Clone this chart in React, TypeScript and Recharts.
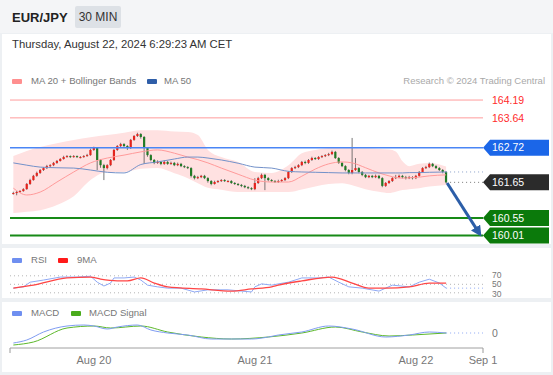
import React from 'react';
import { ComposedChart, Bar, Line, Area, XAxis, YAxis, ReferenceLine } from 'recharts';

// ---------- DATA ----------
const firstOpen = 161.30;
const closes = [
  161.32, 161.35, 161.38, 161.44, 161.60, 161.72, 161.85, 161.94, 162.03, 162.09,
  162.15, 162.18, 162.25, 162.31, 162.37, 162.43, 162.46, 162.43, 162.46, 162.43,
  162.43, 162.46, 162.49, 162.65, 162.71, 162.34, 162.18, 162.09, 162.18, 162.34,
  162.65, 162.77, 162.83, 162.77, 162.71, 162.96, 163.08, 163.14, 163.05, 162.71,
  162.49, 162.34, 162.25, 162.28, 162.22, 162.28, 162.22, 162.25, 162.18, 162.22,
  162.15, 162.12, 162.09, 161.85, 161.78, 161.81, 161.85, 161.78, 161.69, 161.60,
  161.66, 161.69, 161.72, 161.69, 161.69, 161.63, 161.60, 161.57, 161.54, 161.50,
  161.47, 161.44, 161.63, 161.78, 161.88, 161.78, 161.72, 161.69, 161.66, 161.69,
  161.72, 161.78, 161.97, 162.09, 162.12, 162.18, 162.28, 162.25, 162.34, 162.40,
  162.37, 162.43, 162.46, 162.49, 162.52, 162.59, 162.40, 162.25, 162.15, 162.03,
  161.94, 162.03, 162.09, 161.97, 161.88, 161.81, 161.85, 161.81, 161.85, 161.78,
  161.54, 161.63, 161.69, 161.78, 161.81, 161.85, 161.81, 161.78, 161.81, 161.78,
  161.85, 161.97, 162.09, 162.12, 162.22, 162.15, 162.09, 162.03, 161.97, 161.65,
];
const highs = [
  161.36, 161.38, 161.41, 161.47, 161.63, 161.76, 161.88, 161.98, 162.06, 162.12,
  162.19, 162.21, 162.28, 162.34, 162.40, 162.47, 162.49, 162.48, 162.49, 162.48,
  162.46, 162.49, 162.53, 162.69, 162.75, 162.74, 162.37, 162.22, 162.21, 162.37,
  162.68, 162.80, 162.87, 162.86, 162.80, 162.99, 163.11, 163.18, 163.17, 163.08,
  162.74, 162.52, 162.37, 162.33, 162.31, 162.33, 162.31, 162.29, 162.28, 162.26,
  162.25, 162.18, 162.15, 162.12, 161.88, 161.85, 161.88, 161.88, 161.81, 161.72,
  161.70, 161.72, 161.75, 161.75, 161.72, 161.72, 161.66, 161.63, 161.60, 161.57,
  161.53, 161.50, 161.78, 161.82, 161.92, 161.91, 161.81, 161.75, 161.72, 161.73,
  161.75, 161.81, 162.00, 162.12, 162.16, 162.21, 162.31, 162.32, 162.37, 162.44,
  162.43, 162.46, 162.49, 162.52, 162.56, 162.63, 162.62, 162.43, 162.28, 162.18,
  162.06, 163.02, 162.40, 162.12, 162.00, 161.91, 161.88, 161.88, 161.89, 161.88,
  161.81, 161.66, 161.72, 161.81, 161.88, 161.89, 161.88, 161.85, 161.85, 161.84,
  161.88, 162.00, 162.12, 162.16, 162.26, 162.25, 162.18, 162.12, 162.06, 162.00,
];
const lows = [
  161.27, 161.25, 161.33, 161.36, 161.42, 161.57, 161.70, 161.82, 161.91, 162.00,
  162.06, 162.12, 162.15, 162.22, 162.29, 162.35, 162.41, 162.40, 162.41, 162.40,
  162.39, 162.41, 162.44, 162.47, 162.62, 162.03, 162.10, 161.72, 162.05, 162.15,
  162.31, 162.62, 162.74, 162.74, 162.65, 162.68, 162.93, 163.05, 163.00, 162.22,
  162.44, 162.30, 162.21, 162.22, 162.18, 162.19, 162.19, 162.19, 162.15, 162.15,
  162.12, 162.09, 162.06, 161.80, 161.74, 161.75, 161.78, 161.75, 161.64, 161.56,
  161.58, 161.63, 161.66, 161.66, 161.65, 161.60, 161.57, 161.54, 161.50, 161.47,
  161.44, 161.41, 161.41, 161.60, 161.75, 161.41, 161.68, 161.66, 161.63, 161.63,
  161.66, 161.69, 161.75, 161.94, 162.06, 162.09, 162.15, 162.21, 162.22, 162.31,
  162.34, 162.34, 162.40, 162.43, 162.46, 162.49, 162.37, 162.22, 162.12, 161.99,
  161.90, 161.90, 162.00, 161.93, 161.84, 161.78, 161.78, 161.78, 161.78, 161.75,
  161.50, 161.51, 161.60, 161.66, 161.75, 161.78, 161.77, 161.74, 161.75, 161.74,
  161.75, 161.82, 161.94, 162.06, 162.09, 162.12, 162.06, 162.00, 161.93, 161.62,
];

// Moving average / Bollinger samples (candle index)
const bandIdx = [1, 5, 9, 14, 19, 24, 29, 34, 39, 44, 49, 53, 56, 59, 63, 68, 73, 78, 83, 87, 91, 95, 99, 102, 106, 110, 113, 115, 117, 119, 122, 125, 130];
const upperBand = [162.46, 162.62, 162.74, 162.86, 162.96, 163.04, 163.11, 163.18, 163.26, 163.26, 163.22, 163.20, 163.11, 162.65, 162.43, 162.28, 161.97, 161.94, 162.18, 162.55, 162.65, 162.71, 162.73, 162.71, 162.70, 162.68, 162.66, 162.60, 162.30, 162.15, 162.22, 162.25, 162.14];
const lowerBand = [160.70, 160.74, 160.79, 160.95, 161.22, 161.72, 161.97, 161.97, 162.07, 162.09, 161.93, 161.78, 161.62, 161.48, 161.42, 161.35, 161.35, 161.35, 161.35, 161.43, 161.52, 161.60, 161.62, 161.56, 161.44, 161.36, 161.32, 161.36, 161.41, 161.44, 161.47, 161.52, 161.57];
const ma20 = [161.47, 161.26, 161.35, 161.66, 161.97, 162.25, 162.40, 162.49, 162.59, 162.65, 162.55, 162.43, 162.35, 162.25, 162.09, 161.90, 161.72, 161.66, 161.66, 161.84, 162.06, 162.22, 162.28, 162.25, 162.10, 161.94, 161.85, 161.80, 161.78, 161.79, 161.81, 161.85, 161.88];
const ma50 = [162.25, 162.18, 162.12, 162.10, 162.09, 162.03, 161.96, 161.94, 162.20, 162.28, 162.37, 162.43, 162.43, 162.40, 162.34, 162.24, 162.12, 162.09, 161.99, 161.97, 161.96, 161.95, 161.94, 161.94, 161.94, 161.94, 161.94, 161.94, 161.94, 161.95, 161.95, 161.96, 161.97];

// RSI
const rsiIdx = [1, 4, 6, 10, 15, 20, 24, 26, 28, 30, 31, 34, 37, 39, 41, 44, 47, 51, 55, 59, 65, 69, 72, 73, 75, 78, 80, 83, 87, 92, 95, 98, 101, 105, 110, 114, 119, 122, 125, 128, 130];
const rsiVals = [41, 44, 55, 60, 67, 67, 69, 55, 46, 53, 65, 65, 67, 60, 48, 44, 41, 41, 32, 37, 37, 34, 32, 44, 51, 48, 51, 55, 65, 65, 67, 55, 44, 41, 34, 48, 44, 55, 62, 53, 41];
const rsiMaIdx = [1, 7, 17, 24, 27, 32, 35, 39, 43, 47, 57, 66, 72, 78, 80, 87, 96, 102, 107, 112, 119, 125, 130];
const rsiMaVals = [41, 48, 65, 67, 62, 58, 58, 65, 53, 44, 39, 34, 39, 44, 48, 58, 67, 53, 41, 41, 44, 53, 53];
const rsiLevels = [70, 50, 30];

// MACD
const macdIdx = [1, 5, 10, 17, 22, 25, 29, 32, 38, 42, 47, 53, 60, 66, 72, 77, 80, 87, 95, 102, 112, 119, 125, 130];
const macdVals = [-0.10, -0.07, 0.01, 0.07, 0.08, 0.07, 0.04, 0.06, 0.08, 0.03, 0.00, -0.02, -0.06, -0.06, -0.06, -0.04, -0.02, 0.01, 0.07, 0.04, -0.04, -0.02, 0.01, 0.00];
const signalIdx = [1, 7, 17, 25, 30, 39, 47, 57, 66, 77, 87, 97, 105, 113, 120, 130];
const signalVals = [-0.12, -0.09, 0.05, 0.07, 0.05, 0.07, 0.01, -0.04, -0.06, -0.04, 0.00, 0.06, 0.01, -0.03, -0.02, 0.00];

// Levels
const resistanceLevels = [164.19, 163.64];
const pivotLevel = 162.72;
const lastPrice = 161.65;
const supportLevels = [160.55, 160.01];
const arrowTarget = 160.06;

// X axis
const xDomain: [number, number] = [0, 141];
const xTickIdx = [0, 25, 73, 121, 141];
const xTickLabels = ['', 'Aug 20', 'Aug 21', 'Aug 22', 'Sep 1'];

// ---------- BUILT TABLES ----------
const candles = closes.map((c, k) => ({
  i: k + 1,
  open: k === 0 ? firstOpen : closes[k - 1],
  close: c,
  high: highs[k],
  low: lows[k],
}));
const bandData = bandIdx.map((i, k) => ({ i, band: [lowerBand[k], upperBand[k]], ma20: ma20[k], ma50: ma50[k] }));
const lastIdx = candles.length;
const ma50Ext = [{ i: lastIdx, v: ma50[ma50.length - 1] }, { i: xDomain[1], v: ma50[ma50.length - 1] }];
const arrowData = [{ i: lastIdx + 0.3, v: lastPrice - 0.02 }, { i: xDomain[1] - 1, v: arrowTarget }];
const rsiData = rsiIdx.map((i, k) => ({ i, v: rsiVals[k] }));
const rsiMaData = rsiMaIdx.map((i, k) => ({ i, v: rsiMaVals[k] }));
const rsiExt = [{ i: lastIdx, v: rsiVals[rsiVals.length - 1] }, { i: xDomain[1], v: rsiVals[rsiVals.length - 1] }];
const macdData = macdIdx.map((i, k) => ({ i, v: macdVals[k] }));
const signalData = signalIdx.map((i, k) => ({ i, v: signalVals[k] }));

// ---------- RENDER HELPERS ----------
const FONT = 'Arial, "Liberation Sans", Helvetica, sans-serif';

const Candle = (props: any) => {
  const { x, y, width, height, payload } = props;
  if (!payload) return null;
  const { open, close, high, low } = payload;
  const top = Math.min(y, y + height);
  const h = Math.abs(height);
  const range = high - low || 1;
  const toY = (v: number) => top + ((high - v) / range) * h;
  const cx = x + width / 2;
  const up = close >= open;
  const bTop = toY(Math.max(open, close));
  const bBot = toY(Math.min(open, close));
  return (
    <g>
      <line x1={cx} x2={cx} y1={top} y2={top + h} stroke="#555" strokeWidth={0.8} />
      <rect x={cx - 1.1} y={bTop} width={2.2} height={Math.max(1, bBot - bTop)} fill={up ? '#e3241d' : '#207a25'} />
    </g>
  );
};

const tag = (bg: string, fg: string, text: string, size = 10.5, dyPx = 0) => (props: any) => {
  const vb = props.viewBox || {};
  const x = (vb.x ?? 0) + (vb.width ?? 0);
  const y = vb.y ?? 0;
  return (
    <g>
      {bg !== 'none' && (
        <polygon points={`${x},${y} ${x + 7},${y - 8} ${x + 66},${y - 8} ${x + 66},${y + 8} ${x + 7},${y + 8}`} fill={bg} />
      )}
      <text x={x + 9} y={y + dyPx} dy="0.36em" fontSize={size} fill={fg} fontFamily={FONT}>
        {text}
      </text>
    </g>
  );
};

const XTick = (props: any) => {
  const { x, y, payload } = props;
  const k = xTickIdx.indexOf(payload.value);
  const label = k >= 0 ? xTickLabels[k] : '';
  const isEnd = payload.value === xDomain[0] || payload.value === xDomain[1];
  return (
    <g>
      {isEnd && <line x1={x} x2={x} y1={y - 5} y2={y} stroke="#9a9a9a" />}
      <text x={x} y={y + 11} textAnchor="middle" fontSize={11} fill="#777" fontFamily={FONT}>
        {label}
      </text>
    </g>
  );
};

const Swatch = ({ left, top, color }: { left: number; top: number; color: string }) => (
  <div style={{ position: 'absolute', left, top, width: 10, height: 5, borderRadius: 1, background: color }} />
);
const Txt = ({ left, top, children, size = 9.6, color = '#777', weight = 400 }: any) => (
  <div style={{ position: 'absolute', left, top, fontSize: size, lineHeight: `${Math.round(size + 4)}px`, color, fontWeight: weight, whiteSpace: 'nowrap' }}>{children}</div>
);

export default function App() {
  return (
    <div style={{ position: 'absolute', left: 0, top: 0, width: 553, height: 375, background: '#edf0f3', fontFamily: FONT, overflow: 'hidden' }}>
      <svg width={0} height={0} style={{ position: 'absolute' }}>
        <defs>
          <marker id="arrowHead" viewBox="0 0 10 10" refX="7" refY="5" markerWidth="3.6" markerHeight="3.6" orient="auto" markerUnits="strokeWidth">
            <path d="M0,0 L10,5 L0,10 z" fill="#2c5ea8" />
          </marker>
        </defs>
      </svg>

      {/* header */}
      <div style={{ position: 'absolute', left: 0, top: 0, width: 553, height: 33, background: '#f4f5f7' }} />
      <Txt left={12} top={9} size={13} color="#222" weight={700}>EUR/JPY</Txt>
      <div style={{ position: 'absolute', left: 75, top: 6, width: 46, height: 22, background: '#dde1e6', borderRadius: 2, fontSize: 12, lineHeight: '22px', textAlign: 'center', color: '#333' }}>30 MIN</div>

      {/* panels */}
      <div style={{ position: 'absolute', left: 2, top: 34, width: 549, height: 210, background: '#fff' }} />
      <div style={{ position: 'absolute', left: 2, top: 248, width: 549, height: 50, background: '#fff' }} />
      <div style={{ position: 'absolute', left: 2, top: 302, width: 549, height: 70, background: '#fff' }} />

      <Txt left={12} top={37} size={11.3} color="#333">Thursday, August 22, 2024 6:29:23 AM CET</Txt>

      <Swatch left={12} top={79} color="#ff8f8f" />
      <Txt left={31} top={74}>MA 20 + Bollinger Bands</Txt>
      <Swatch left={147} top={79} color="#2f5ea8" />
      <Txt left={164} top={74}>MA 50</Txt>
      <div style={{ position: 'absolute', right: 8, top: 74, fontSize: 9.5, lineHeight: '14px', color: '#a9a9a9', whiteSpace: 'nowrap' }}>Research © 2024 Trading Central</div>

      <Swatch left={12} top={258} color="#6f8ff0" />
      <Txt left={31} top={253}>RSI</Txt>
      <Swatch left={58} top={258} color="#ff1a1a" />
      <Txt left={77} top={253}>9MA</Txt>

      <Swatch left={12} top={311} color="#6f8ff0" />
      <Txt left={31} top={306}>MACD</Txt>
      <Swatch left={71} top={311} color="#4aab1c" />
      <Txt left={89} top={306}>MACD Signal</Txt>

      {/* main price chart */}
      <div style={{ position: 'absolute', left: 0, top: 0 }}>
        <ComposedChart width={553} height={245} data={candles} margin={{ top: 90, right: 70, bottom: 4.34, left: 10 }}>
          <XAxis dataKey="i" type="number" domain={xDomain} hide allowDataOverflow />
          <YAxis type="number" domain={[159.85, 164.5]} hide allowDataOverflow />
          <Area data={bandData} dataKey="band" type="monotone" fill="#ffe1e1" fillOpacity={1} stroke="none" isAnimationActive={false} />
          {resistanceLevels.map((v) => (
            <ReferenceLine key={v} y={v} stroke="#ff9c9c" strokeWidth={1} label={tag('none', '#ff2b2b', v.toFixed(2))} />
          ))}
          <ReferenceLine y={pivotLevel} stroke="#4a86f5" strokeWidth={1.5} label={tag('#1b66e8', '#fff', pivotLevel.toFixed(2))} />
          {supportLevels.map((v) => (
            <ReferenceLine key={v} y={v} stroke="#178a17" strokeWidth={2} label={tag('#0b7a0b', '#fff', v.toFixed(2))} />
          ))}
          <ReferenceLine segment={[{ x: lastIdx, y: lastPrice }, { x: xDomain[1], y: lastPrice }]} stroke="#777" strokeDasharray="1 3" label={tag('#2b2b2b', '#fff', lastPrice.toFixed(2))} />
          <Line data={bandData} dataKey="ma20" type="monotone" stroke="#ff9a9a" strokeWidth={1} dot={false} isAnimationActive={false} />
          <Line data={bandData} dataKey="ma50" type="monotone" stroke="#7391c9" strokeWidth={1} dot={false} isAnimationActive={false} />
          <Line data={ma50Ext} dataKey="v" stroke="#8aa0c8" strokeDasharray="1 3" strokeWidth={1} dot={false} isAnimationActive={false} />
          <Bar dataKey={(d: any) => [d.low, d.high]} barSize={2} shape={<Candle />} isAnimationActive={false} />
          <Line data={arrowData} dataKey="v" type="linear" stroke="#2c5ea8" strokeWidth={3} dot={false} markerEnd="url(#arrowHead)" isAnimationActive={false} />
        </ComposedChart>
      </div>

      {/* RSI */}
      <div style={{ position: 'absolute', left: 0, top: 248 }}>
        <ComposedChart width={553} height={52} margin={{ top: 19.3, right: 70, bottom: 2.95, left: 10 }}>
          <XAxis dataKey="i" type="number" domain={xDomain} hide allowDataOverflow />
          <YAxis type="number" domain={[20, 90]} hide allowDataOverflow />
          {rsiLevels.map((v, k) => (
            <ReferenceLine key={v} y={v} stroke="#b5b5b5" strokeDasharray="1 3" label={tag('none', '#777', String(v), 8.5, (k - 1) * 1)} />
          ))}
          <Line data={rsiData} dataKey="v" type="linear" stroke="#8ea8f4" strokeWidth={1} dot={false} isAnimationActive={false} />
          <Line data={rsiExt} dataKey="v" stroke="#8ea8f4" strokeDasharray="1 3" strokeWidth={1} dot={false} isAnimationActive={false} />
          <Line data={rsiMaData} dataKey="v" type="monotone" stroke="#ff4545" strokeWidth={1.3} dot={false} isAnimationActive={false} />
        </ComposedChart>
      </div>

      {/* MACD */}
      <div style={{ position: 'absolute', left: 0, top: 302 }}>
        <ComposedChart width={553} height={70} margin={{ top: 16, right: 70, bottom: 4, left: 10 }}>
          <XAxis dataKey="i" type="number" domain={xDomain} ticks={xTickIdx} interval={0} height={20} tickSize={5} tickMargin={0} tickLine={false} axisLine={{ stroke: '#a0a0a0' }} tick={<XTick />} allowDataOverflow />
          <YAxis type="number" domain={[-0.15, 0.15]} hide allowDataOverflow />
          <ReferenceLine segment={[{ x: lastIdx, y: 0 }, { x: xDomain[1], y: 0 }]} stroke="#8ea8f4" strokeDasharray="1 3" label={tag('none', '#777', '0')} />
          <Line data={signalData} dataKey="v" type="monotone" stroke="#5cb82a" strokeWidth={1} dot={false} isAnimationActive={false} />
          <Line data={macdData} dataKey="v" type="monotone" stroke="#7f9cf2" strokeWidth={1} dot={false} isAnimationActive={false} />
        </ComposedChart>
      </div>
    </div>
  );
}
